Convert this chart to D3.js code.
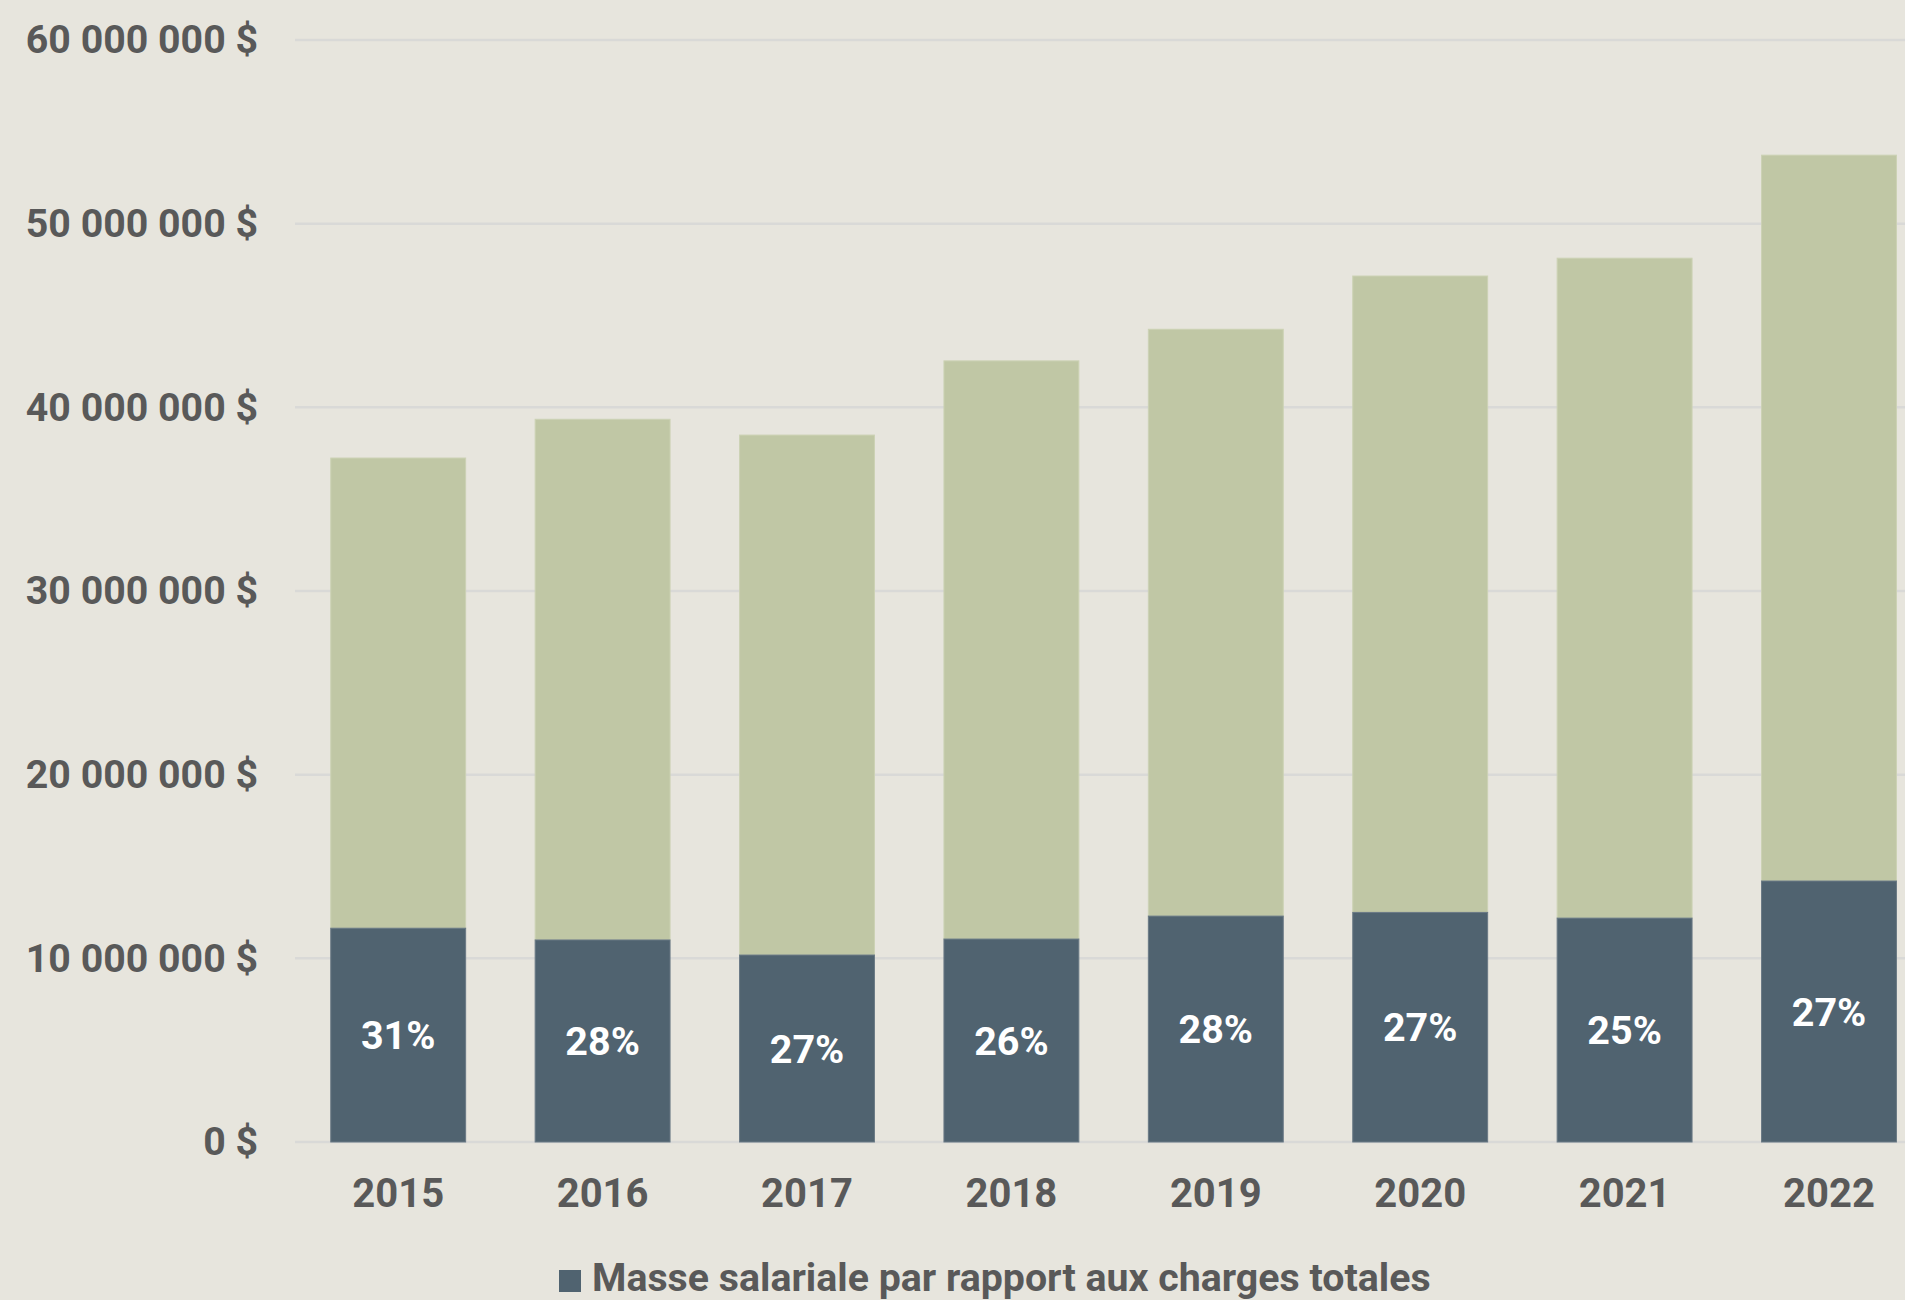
<!DOCTYPE html>
<html>
<head>
<meta charset="utf-8">
<script src="https://cdn.jsdelivr.net/npm/d3@7"></script>
<style>
  html, body { margin: 0; padding: 0; background: #e7e5dd; overflow: hidden; }
  svg { display: block; font-family: Roboto, "Noto Sans", sans-serif; }
</style>
</head>
<body>
<svg id="chart" width="1905" height="1300"></svg>
<script>
const years = ["2015", "2016", "2017", "2018", "2019", "2020", "2021", "2022"];
const payroll = [11640000, 11000000, 10180000, 11050000, 12300000, 12500000, 12190000, 14210000];
const totalCharges = [37240000, 39350000, 38490000, 42530000, 44250000, 47150000, 48120000, 53730000];
const percentLabels = ["31%", "28%", "27%", "26%", "28%", "27%", "25%", "27%"];
const yTicks = [0, 10000000, 20000000, 30000000, 40000000, 50000000, 60000000];
const legendLabel = "Masse salariale par rapport aux charges totales";

const svg = d3.select("#chart");
const W = 1905, H = 1300;
svg.append("rect").attr("width", W).attr("height", H).attr("fill", "#e7e5dd");

const plotLeft = 295, plotTop = 40, plotBottom = 1142;
const step = 204.4;
const x = d3.scaleBand().domain(years).range([296, 296 + 8 * step])
  .paddingInner(0.34).paddingOuter(0.17);
const y = d3.scaleLinear().domain([0, 60000000]).range([plotBottom, plotTop]);

const locale = d3.formatLocale({ decimal: ",", thousands: " ", grouping: [3], currency: ["", " $"] });
const fmt = v => locale.format(",.0f")(v) + " $";

// gridlines
svg.append("g").selectAll("line").data(yTicks).join("line")
  .attr("x1", plotLeft).attr("x2", W)
  .attr("y1", d => y(d)).attr("y2", d => y(d))
  .attr("stroke", "#d9d9d7").attr("stroke-width", 2.5);

// y axis labels
const yAxis = d3.axisLeft(y).tickValues(yTicks).tickFormat(fmt).tickSize(0).tickPadding(0);
const gy = svg.append("g").attr("transform", `translate(258,0)`).call(yAxis);
gy.select(".domain").remove();
gy.selectAll("text").attr("fill", "#595959").attr("font-size", 39.3).attr("font-weight", 700)
  .attr("font-family", "Roboto, sans-serif").attr("dy", "0.33em");

// bars
const rows = years.map((yr, i) => ({ yr, p: payroll[i], t: totalCharges[i], lab: percentLabels[i] }));
svg.append("g").selectAll("rect").data(rows).join("rect")
  .attr("x", d => x(d.yr)).attr("width", x.bandwidth())
  .attr("y", d => y(d.t)).attr("height", d => y(d.p) - y(d.t))
  .attr("fill", "#c0c7a5").attr("stroke", "#ccd2b4").attr("stroke-width", 1);

svg.append("g").selectAll("rect").data(rows).join("rect")
  .attr("x", d => x(d.yr)).attr("width", x.bandwidth())
  .attr("y", d => y(d.p)).attr("height", d => y(0) - y(d.p))
  .attr("fill", "#506370").attr("stroke", "#6a7a85").attr("stroke-width", 1);

// percent labels
svg.append("g").selectAll("text").data(rows).join("text")
  .attr("x", d => x(d.yr) + x.bandwidth() / 2)
  .attr("y", d => (y(d.p) + y(0)) / 2)
  .attr("dy", "0.36em")
  .attr("text-anchor", "middle")
  .attr("fill", "#ffffff").attr("font-size", 39.5).attr("font-weight", 700)
  .text(d => d.lab);

// x axis labels
const xAxis = d3.axisBottom(x).tickSize(0).tickPadding(0);
const gx = svg.append("g").attr("transform", `translate(0,1207)`).call(xAxis);
gx.select(".domain").remove();
gx.selectAll("text").attr("fill", "#595959").attr("font-size", 40).attr("font-weight", 700)
  .attr("font-family", "Roboto, sans-serif").attr("dy", 0);

// legend
const lg = svg.append("g");
lg.append("rect").attr("x", 559).attr("y", 1270).attr("width", 22).attr("height", 22).attr("fill", "#506370");
lg.append("text").attr("x", 592).attr("y", 1291).attr("fill", "#595959")
  .attr("font-size", 39.3).attr("font-weight", 700).text(legendLabel);
</script>
</body>
</html>
